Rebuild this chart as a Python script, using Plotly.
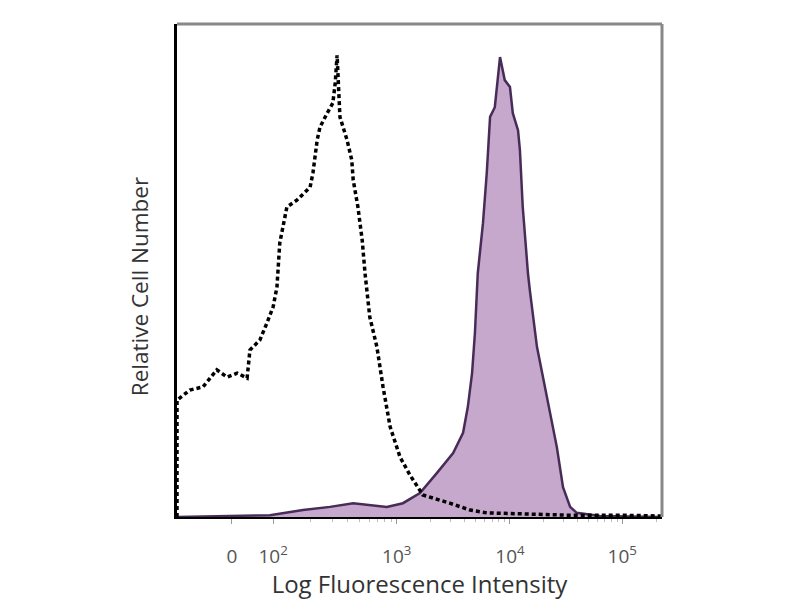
import plotly.graph_objects as go
import numpy as np

# channel units (0-1024 display scale), relative counts in % of max
iso_x = [0, 0, 27, 55, 84, 106, 127, 148, 154, 175, 190, 203, 211, 217, 232, 253, 281, 287,
         296, 302, 317, 329, 334, 338, 344, 359, 369, 372, 382, 391, 397, 407, 422, 435, 450,
         471, 492, 519, 576, 619, 654, 724, 823, 935, 1024]
iso_y = [0, 25.4, 27.6, 28.3, 32.0, 30.4, 31.3, 30.2, 36.3, 38.5, 42.2, 45.7, 50.0, 59.6, 67.4,
         68.9, 71.7, 74.8, 82.0, 84.8, 87.8, 90.0, 94.3, 100.4, 87.0, 82.0, 77.6, 73.3, 67.4,
         60.2, 53.0, 43.5, 37.0, 28.3, 19.6, 13.0, 9.1, 4.8, 3.0, 1.5, 0.9, 0.7, 0.4, 0.4, 0.2]

stain_x = [0, 112, 196, 266, 323, 372, 443, 477, 513, 549, 583, 604, 614, 623, 629, 635, 646,
           654, 661, 671, 676, 682, 692, 703, 709, 720, 724, 730, 741, 745, 760, 781, 802, 815,
           830, 844, 893, 1024]
stain_y = [0, 0.2, 0.4, 1.5, 2.2, 3.0, 2.2, 3.0, 5.2, 9.6, 13.9, 18.3, 23.9, 31.3, 40.0, 53.0,
           63.9, 74.8, 87.0, 89.1, 94.3, 100, 95.0, 93.5, 87.8, 84.1, 79.8, 67.4, 53.0, 49.3,
           37.0, 26.1, 15.2, 6.5, 2.2, 0.9, 0.2, 0]

tick_pos = [116, 203, 464, 703, 940]
tick_txt = ["0", "10<sup>2</sup>", "10<sup>3</sup>", "10<sup>4</sup>", "10<sup>5</sup>"]

# minor ticks: log spacing inside each decade
minor = []
dec = tick_pos[1:]
for a, b in zip(dec[:-1], dec[1:]):
    for k in range(2, 10):
        minor.append(a + (b - a) * np.log10(k))
for k in range(2, 4):
    minor.append(dec[-1] + (dec[-1] - dec[-2]) * np.log10(k))

fig = go.Figure()
fig.add_trace(go.Scatter(x=stain_x, y=stain_y, mode="lines", fill="tozeroy",
                         fillcolor="rgb(198,168,204)",
                         line=dict(color="rgb(72,44,88)", width=2.5)))
fig.add_trace(go.Scatter(x=iso_x, y=iso_y, mode="lines",
                         line=dict(color="black", width=3.5, dash="4px,3px")))

# page body has an 8px margin, so figure is 792x592
fig.update_layout(
    width=792, height=592,
    margin=dict(l=169, r=138, t=16, b=83),
    paper_bgcolor="white", plot_bgcolor="white",
    showlegend=False,
    font=dict(family="Open Sans", color="#333"),
)
fig.update_xaxes(range=[0, 1024], showgrid=False, zeroline=False, automargin=False,
                 showline=True, linecolor="black", linewidth=2,
                 tickvals=tick_pos, ticktext=tick_txt, ticks="outside", ticklen=5,
                 tickcolor="#999", tickfont=dict(size=19, color="#555"),
                 ticklabelstandoff=16,
                 minor=dict(tickvals=minor, ticks="outside", ticklen=3, tickcolor="#bbb"),
                 title=dict(text="Log Fluorescence Intensity", font=dict(size=24, color="#333"),
                            standoff=3))
fig.update_yaxes(range=[0, 107.2], showgrid=False, zeroline=False, automargin=False,
                 showline=True, linecolor="black", linewidth=3,
                 showticklabels=False, ticks="")
fig.add_annotation(text="Relative Cell Number", textangle=-90, showarrow=False,
                   xref="paper", yref="paper", x=-0.078, y=0.4665,
                   xanchor="center", yanchor="middle",
                   font=dict(size=22.5, color="#333", family="Open Sans"))
# grey frame on top and right
fig.add_shape(type="line", xref="paper", yref="paper", x0=0, x1=1, y0=1, y1=1,
              line=dict(color="#888", width=3))
fig.add_shape(type="line", xref="paper", yref="paper", x0=1, x1=1, y0=0, y1=1,
              line=dict(color="#888", width=3))

fig.write_html("out.html")
